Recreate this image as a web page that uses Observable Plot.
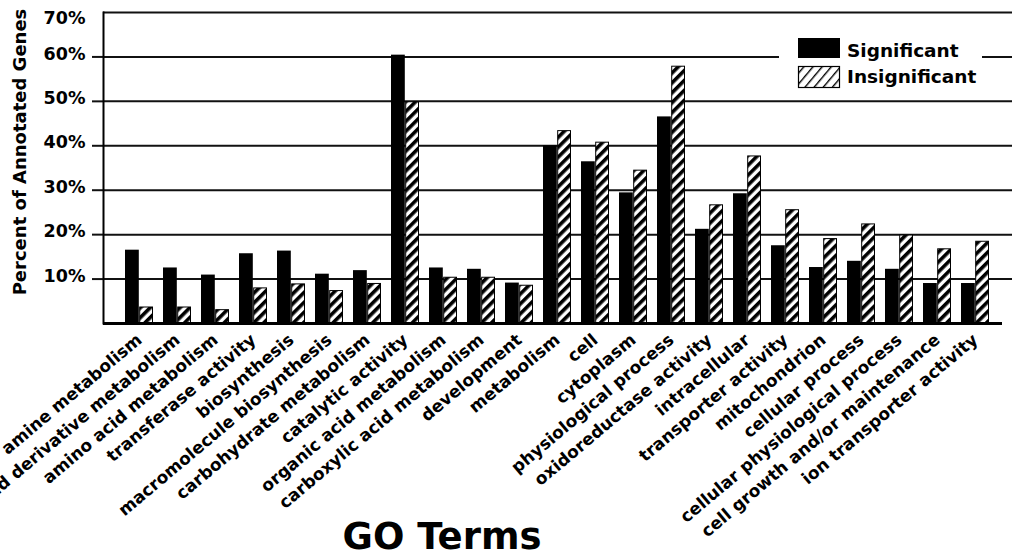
<!DOCTYPE html>
<html><head><meta charset="utf-8">
<script src="https://cdn.jsdelivr.net/npm/d3@7"></script>
<script src="https://cdn.jsdelivr.net/npm/@observablehq/plot@0.6"></script>
<style>body{margin:0;background:#fff}</style>
</head><body><div id="chart"></div>
<script>
const categories = [
  "amine metabolism", "amino acid derivative metabolism", "amino acid metabolism",
  "transferase activity", "biosynthesis", "macromolecule biosynthesis",
  "carbohydrate metabolism", "catalytic activity", "organic acid metabolism",
  "carboxylic acid metabolism", "development", "metabolism", "cell", "cytoplasm",
  "physiological process", "oxidoreductase activity", "intracellular",
  "transporter activity", "mitochondrion", "cellular process",
  "cellular physiological process", "cell growth and/or maintenance",
  "ion transporter activity"
];
const significant   = [16.5, 12.5, 10.9, 15.7, 16.3, 11.1, 11.9, 60.4, 12.5, 12.2, 9.1, 40.0, 36.4, 29.4, 46.5, 21.2, 29.2, 17.5, 12.6, 14.0, 12.2, 9.0, 9.0];
const insignificant = [3.6, 3.6, 3.0, 7.9, 8.8, 7.3, 8.9, 49.8, 10.3, 10.3, 8.5, 43.3, 40.7, 34.4, 57.8, 26.6, 37.6, 25.5, 19.0, 22.3, 19.8, 16.7, 18.4];
const yTicks = [10, 20, 30, 40, 50, 60, 70];
const seriesNames = ["Significant", "Insignificant"];
const xTitle = "GO Terms";
const yTitle = "Percent of Annotated Genes";

const sigRows = categories.map((c, i) => ({term: c, series: seriesNames[0], value: significant[i]}));
const insRows = categories.map((c, i) => ({term: c, series: seriesNames[1], value: insignificant[i]}));
const pct = d => d + "%";

const plot = Plot.plot({
  width: 1012, height: 557,
  marginLeft: 103, marginRight: 0, marginTop: 12, marginBottom: 234,
  style: {fontFamily: "DejaVu Sans", fontWeight: "bold", background: "white", color: "black"},
  x: {domain: categories, paddingInner: 0.2658, paddingOuter: 0, insetLeft: 14.3, insetRight: 15.3, label: null},
  y: {domain: [0, 70], label: null},
  marks: [
    Plot.ruleY(yTicks, {stroke: "#111", strokeWidth: 2}),
    Plot.barY(sigRows, {x: "term", y: "value", fill: "black", insetRight: 14.2}),
    Plot.barY(insRows, {x: "term", y: "value", fill: "url(#hatch)", stroke: "black", strokeWidth: 1, insetLeft: 14.7, insetRight: 0.5}),
    Plot.ruleY([0], {stroke: "black", strokeWidth: 3, insetRight: 10}),
    Plot.axisY({ticks: yTicks.filter(t => t < 70), tickSize: 11, strokeWidth: 2, fill: "none", stroke: "#111"}),
    Plot.axisY({ticks: yTicks.filter(t => t < 70), tickSize: 0, tickPadding: 18, tickFormat: pct, fontSize: 17.5, dy: -3, fill: "black"}),
    Plot.axisY({ticks: [70], tickSize: 0, tickPadding: 18, tickFormat: pct, fontSize: 17.5, dy: 6, fill: "black"}),
    Plot.axisX({tickSize: 0, tickPadding: 14, tickRotate: -40, fontSize: 17, label: null, fill: "black"}),
    Plot.frame({anchor: "left", stroke: "black", strokeWidth: 2})
  ]
});

const svg = d3.select(plot);
const defs = svg.insert("defs", ":first-child");
const p1 = defs.append("pattern").attr("id", "hatch").attr("patternUnits", "userSpaceOnUse")
  .attr("width", 7).attr("height", 7).attr("patternTransform", "rotate(45)");
p1.append("rect").attr("width", 7).attr("height", 7).attr("fill", "white");
p1.append("rect").attr("width", 3.6).attr("height", 7).attr("fill", "black");
const p2 = defs.append("pattern").attr("id", "hatchLegend").attr("patternUnits", "userSpaceOnUse")
  .attr("width", 7).attr("height", 7).attr("patternTransform", "rotate(40)");
p2.append("rect").attr("width", 7).attr("height", 7).attr("fill", "white");
p2.append("rect").attr("width", 1.4).attr("height", 7).attr("fill", "black");

// legend
const lg = svg.append("g").attr("font-family", "DejaVu Sans").attr("font-weight", "bold")
  .attr("font-size", 18.5).attr("text-anchor", "start");
lg.append("rect").attr("x", 779).attr("y", 28).attr("width", 203).attr("height", 70).attr("fill", "white");
lg.append("rect").attr("x", 798).attr("y", 38).attr("width", 42).attr("height", 20).attr("fill", "black");
lg.append("rect").attr("x", 798.5).attr("y", 66.5).attr("width", 41).attr("height", 21)
  .attr("fill", "url(#hatchLegend)").attr("stroke", "black").attr("stroke-width", 1.2);
lg.append("text").attr("x", 847).attr("y", 57).attr("text-anchor", "start").text(seriesNames[0]);
lg.append("text").attr("x", 847).attr("y", 83).attr("text-anchor", "start").text(seriesNames[1]);

// titles
svg.append("text").attr("x", 442).attr("y", 549).attr("text-anchor", "middle")
  .attr("font-family", "DejaVu Sans").attr("font-weight", "bold").attr("font-size", 37).text(xTitle);
svg.append("text").attr("transform", "translate(25.5,152) rotate(-90)").attr("text-anchor", "middle")
  .attr("font-family", "DejaVu Sans").attr("font-weight", "bold").attr("font-size", 18).text(yTitle);

document.getElementById("chart").appendChild(plot);
</script>
</body></html>
